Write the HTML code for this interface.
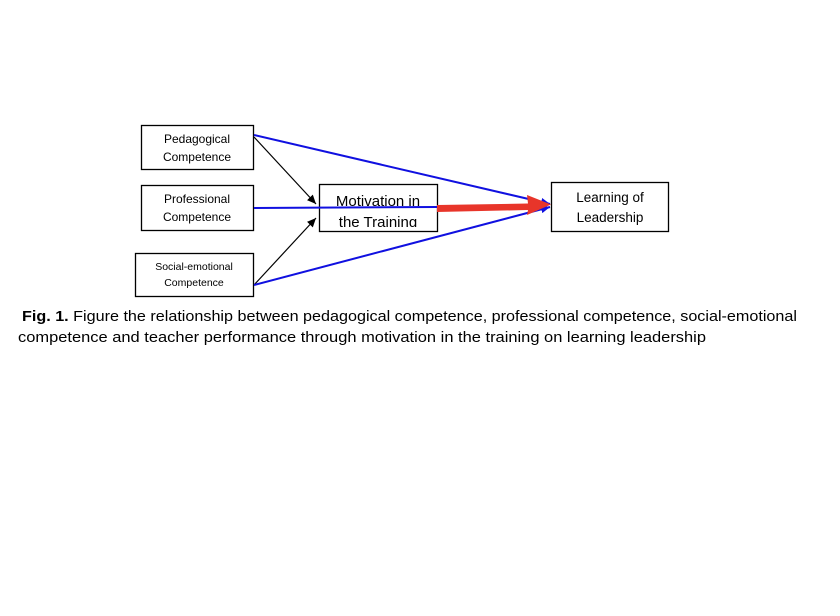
<!DOCTYPE html>
<html><head><meta charset="utf-8"><style>
html,body{margin:0;padding:0;background:#fff;}
svg{display:block;}
text{font-family:"Liberation Sans",sans-serif;fill:#000;}
</style></head><body>
<svg width="840" height="616" viewBox="0 0 840 616" xmlns="http://www.w3.org/2000/svg">
<defs>
<marker id="ab" markerWidth="10" markerHeight="10" refX="9" refY="5" orient="auto" markerUnits="userSpaceOnUse"><path d="M0,1 L9,5 L0,9 z" fill="#000"/></marker>
<marker id="bb" markerWidth="10" markerHeight="10" refX="9" refY="5" orient="auto" markerUnits="userSpaceOnUse"><path d="M0,1 L9,5 L0,9 z" fill="#1010e0"/></marker>
<clipPath id="mc"><rect x="320" y="185" width="116" height="42"/></clipPath>
</defs>
<rect width="840" height="616" fill="#fff"/>
<rect x="141.5" y="125.5" width="112" height="44" fill="#fff" stroke="#000" stroke-width="1.3"/>
<rect x="141.5" y="185.5" width="112" height="45" fill="#fff" stroke="#000" stroke-width="1.3"/>
<rect x="135.5" y="253.5" width="118" height="43" fill="#fff" stroke="#000" stroke-width="1.3"/>
<rect x="319.5" y="184.5" width="118" height="47" fill="#fff" stroke="#000" stroke-width="1.3"/>
<rect x="551.5" y="182.5" width="117" height="49" fill="#fff" stroke="#000" stroke-width="1.3"/>
<line x1="254" y1="137" x2="316" y2="204" stroke="#000" stroke-width="1.2" marker-end="url(#ab)"/>
<line x1="254" y1="285" x2="316" y2="218" stroke="#000" stroke-width="1.2" marker-end="url(#ab)"/>
<line x1="254" y1="135" x2="550" y2="204" stroke="#1010e0" stroke-width="2" marker-end="url(#bb)"/>
<line x1="254" y1="285" x2="550" y2="207" stroke="#1010e0" stroke-width="2" marker-end="url(#bb)"/>
<line x1="254" y1="208" x2="437" y2="207" stroke="#1010e0" stroke-width="2"/>
<path d="M437,205 L528,203.5 L527,195 L551,204.5 L527,215 L528,210 L437,212 z" fill="#e8352a"/>
<text x="197" y="143" font-size="12" text-anchor="middle">Pedagogical</text>
<text x="197" y="161" font-size="12" text-anchor="middle">Competence</text>
<text x="197" y="203" font-size="12" text-anchor="middle">Professional</text>
<text x="197" y="221" font-size="12" text-anchor="middle">Competence</text>
<text x="194" y="270" font-size="10.5" text-anchor="middle">Social-emotional</text>
<text x="194" y="286" font-size="10.5" text-anchor="middle">Competence</text>
<g clip-path="url(#mc)">
<text x="378" y="206" font-size="15" text-anchor="middle">Motivation in</text>
<text x="378" y="227" font-size="15" text-anchor="middle">the Training</text>
</g>
<text x="610" y="202" font-size="13.5" text-anchor="middle">Learning of</text>
<text x="610" y="222" font-size="13.5" text-anchor="middle">Leadership</text>
<text x="22" y="321" font-size="15" textLength="775" lengthAdjust="spacingAndGlyphs"><tspan font-weight="bold">Fig. 1.</tspan> Figure the relationship between pedagogical competence, professional competence, social-emotional</text>
<text x="18" y="342" font-size="15" textLength="688" lengthAdjust="spacingAndGlyphs">competence and teacher performance through motivation in the training on learning leadership</text>
</svg>
</body></html>
